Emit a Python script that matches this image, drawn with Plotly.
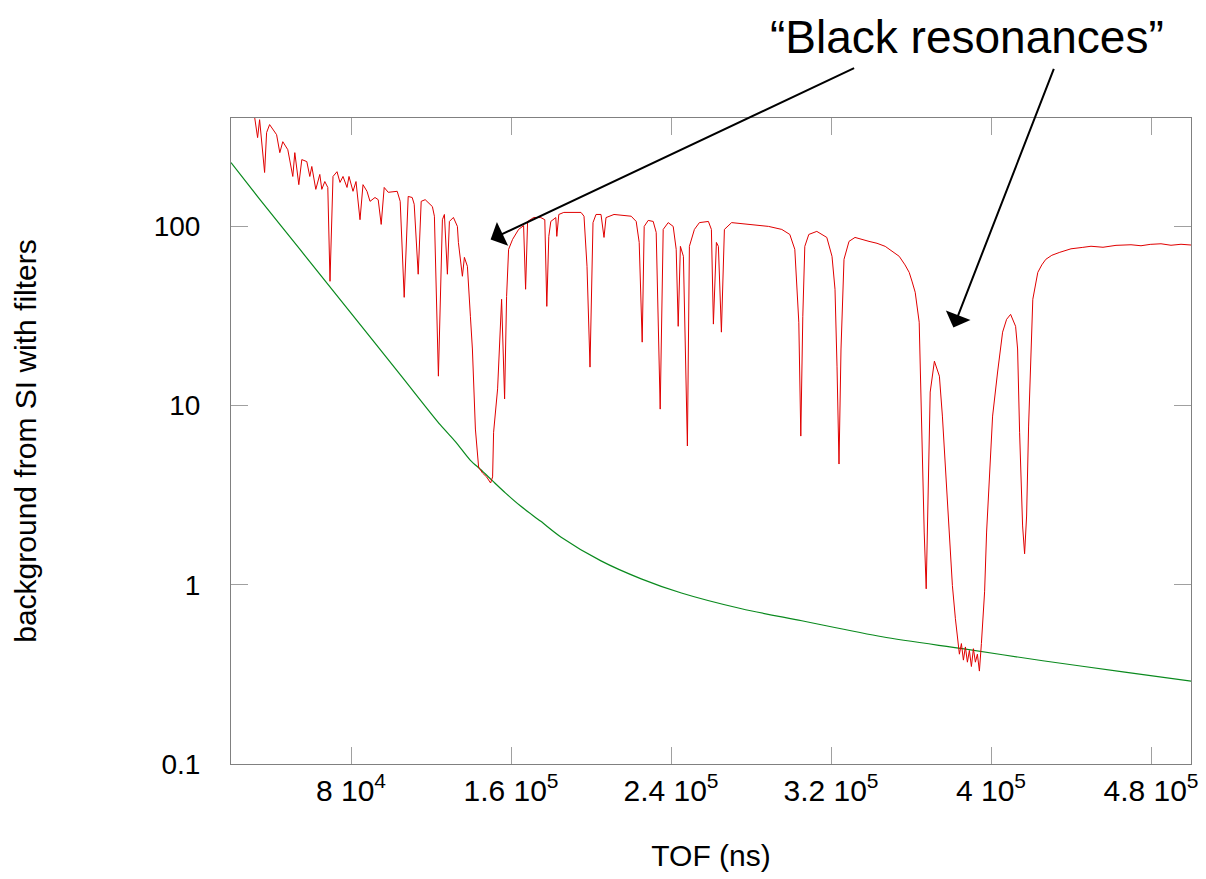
import plotly.graph_objects as go

# ---- data (TOF in units of 1e3 ns) ----
red_tof_k = [31.0, 33.3, 34.3, 36.8, 37.8, 39.3, 42.8, 44.4, 45.9, 48.4, 50.9, 51.9, 53.9, 55.4, 57.9,
             59.4, 60.4, 62.4, 64.4, 65.4, 66.9, 68.4, 69.5, 71.0, 73.0, 74.5, 76.0, 78.0, 79.0, 81.0,
             82.5, 84.5, 86.0, 88.0, 89.5, 92.0, 93.6, 95.1, 96.6, 98.6, 103.1, 104.6, 106.6, 108.6,
             110.6, 111.6, 113.6, 115.1, 117.1, 118.6, 120.7, 121.7, 123.7, 125.7, 126.7, 128.2, 129.2,
             131.2, 133.2, 133.7, 135.7, 136.7, 138.2, 139.7, 140.7, 142.2, 143.8, 145.8, 147.8, 149.8,
             150.8, 151.3, 153.3, 155.3, 156.8, 157.8, 158.8, 160.8, 163.8, 166.3, 167.3, 168.3, 171.4,
             174.9, 176.9, 177.9, 178.9, 179.9, 182.4, 182.9, 183.9, 186.4, 195.0, 196.5, 198.0, 199.5,
             201.0, 202.5, 205.0, 206.5, 207.5, 211.5, 220.1, 222.6, 224.1, 225.6, 226.6, 228.6, 231.1,
             232.6, 234.6, 236.1, 238.6, 241.1, 242.6, 243.6, 244.7, 246.2, 248.2, 249.2, 251.7, 254.2,
             258.7, 260.2, 261.2, 262.7, 263.7, 265.2, 266.7, 270.3, 280.3, 288.8, 295.4, 299.4, 301.9,
             303.9, 304.9, 305.9, 306.9, 308.9, 312.9, 317.9, 320.5, 322.0, 323.0, 324.0, 325.0, 326.5,
             329.0, 332.0, 339.0, 343.0, 347.1, 351.0, 354.1, 357.0, 359.1, 360.6, 362.1, 364.1, 365.1,
             366.6, 367.6, 368.6, 369.6,
             371.7, 374.2, 375.7, 377.2, 379.2, 380.7, 382.2, 383.2, 384.2, 385.2, 386.2, 387.2, 388.2,
             389.2, 390.2, 391.2, 392.2, 393.2, 394.2, 395.2, 396.8, 397.8, 399.3, 400.8, 403.3, 405.8,
             407.8, 409.8, 412.3, 413.3, 414.3, 415.8, 416.8, 417.8, 418.8, 419.9, 420.9, 423.4, 425.4,
             427.4, 430.4, 434.4, 440.0, 445.9, 450.0, 456.0, 462.5, 470.0, 475.0, 479.6, 485.0, 490.0,
             495.0, 502.2]
red_counts = [470, 313, 394, 200, 334, 370, 325, 258, 297, 268, 190, 258, 171, 236, 230,
              190, 216, 161, 195, 161, 178, 165, 49.4, 190, 202, 176, 190, 165, 190, 157,
              178, 109, 171, 157, 138, 145, 141, 102.6, 165, 155, 157, 138, 40.2, 147,
              145, 133, 54.1, 138, 141, 136, 129, 114, 14.6, 109, 116.6, 54.1, 106.6,
              112.2, 100, 81.4, 52.7, 67.2, 59.9, 31.5, 20.7, 7.4, 4.54, 4.2, 4.0, 3.7,
              4.0, 7.1, 12.4, 39.2, 10.9, 40.7, 74.5, 84.7, 96.2, 101, 44.6, 106.6, 112.2,
              112, 109, 35.8, 88, 106.6, 112, 88, 116.6, 119.7, 119.7, 114, 59.9, 16.4,
              105, 116.6, 116.6, 86.8, 112, 116.6, 114, 106.6, 81.4, 22.6, 100, 108, 106.6,
              92.6, 9.56, 96.2, 105, 100, 74.5, 27.7, 77.4, 68.1, 5.95, 77.4, 96.2, 105,
              106.6, 96.2, 28.5, 81.4, 77.4, 25.7, 96.2, 105, 102.6, 100, 96.2, 90.2, 74.5,
              29.2, 6.76, 31.5, 77.4, 90.2, 93.8, 86.8, 68.1, 44.6, 16.6, 4.72, 20.7, 65.5,
              82.5, 86.8, 82.5, 80.5, 77.4, 72.5, 68.1, 61.0, 55.4, 49.0, 42.9, 29.2, 8.41,
              1.97, 0.95, 3.01, 11.9,
              17.7, 14.6, 8.74, 4.6, 1.97, 0.99, 0.647, 0.50, 0.41, 0.47, 0.38, 0.45, 0.37,
              0.43, 0.35, 0.44, 0.37, 0.41, 0.33, 0.47, 0.914, 1.97, 4.6, 8.74, 15.4, 25.7,
              30.3, 32.3, 27.7, 20.7, 7.1, 2.13, 1.49, 2.42, 7.69, 20.7, 39.2, 55.4, 61.0,
              65.5, 69.0, 71.7, 75.0, 76.4, 77.5, 76.5, 78.4, 79.0, 78.0, 79.4, 80.0, 78.5,
              79.5, 78.4]

green_tof_k = [20.0, 34.3, 54.4, 79.5, 104.6, 124.7, 132.2, 139.7, 144.8, 150.8, 157.3, 164.8,
               174.9, 184.9, 205.0, 225.1, 245.2, 275.3, 305.4, 345.6, 385.7, 425.9, 466.0, 501.7]
green_counts = [227, 142, 74.6, 33.3, 14.9, 7.8, 6.3, 4.95, 4.4, 3.8, 3.25, 2.75,
                2.26, 1.85, 1.36, 1.08, 0.90, 0.735, 0.63, 0.513, 0.44, 0.377, 0.327, 0.288]

x_tick_vals = [80000, 160000, 240000, 320000, 400000, 480000]
x_tick_text = ["8 10<sup>4</sup>", "1.6 10<sup>5</sup>", "2.4 10<sup>5</sup>",
               "3.2 10<sup>5</sup>", "4 10<sup>5</sup>", "4.8 10<sup>5</sup>"]
y_tick_vals = [0.1, 1, 10, 100]
y_tick_text = ["0.1", "1", "10", "100"]

FONT = "Liberation Sans, Arial, sans-serif"

fig = go.Figure()
fig.add_trace(go.Scatter(x=[t * 1000 for t in green_tof_k], y=green_counts, mode="lines",
                         line=dict(color="#0a8a1e", width=1.2, shape="spline", smoothing=0.8),
                         showlegend=False))
fig.add_trace(go.Scatter(x=[t * 1000 for t in red_tof_k], y=red_counts, mode="lines",
                         line=dict(color="#e00000", width=1),
                         showlegend=False))

axis_common = dict(showgrid=False, zeroline=False, showline=True, linecolor="#808080",
                   linewidth=1, mirror="ticks", ticks="inside", ticklen=17, tickcolor="#a0a0a0",
                   tickwidth=1)

fig.update_xaxes(range=[20000, 500000], tickvals=x_tick_vals, ticktext=x_tick_text,
                 tickfont=dict(family=FONT, size=30, color="black"),
                 title=dict(text="TOF (ns)", font=dict(family=FONT, size=30, color="black"), standoff=38),
                 **axis_common)
fig.update_yaxes(type="log", range=[-1, 2.605], tickvals=y_tick_vals, ticktext=y_tick_text,
                 ticklabelstandoff=24, tickfont=dict(family=FONT, size=28, color="black"),
                 title=dict(text="background from SI with filters",
                            font=dict(family=FONT, size=30, color="black"), standoff=108),
                 **axis_common)

fig.add_annotation(x=(967 - 231) / 960, y=1 + (118 - 37) / 646, xref="paper", yref="paper",
                   text="“Black resonances”", showarrow=False,
                   font=dict(family=FONT, size=46, color="black"), xanchor="center", yanchor="middle")
fig.add_annotation(x=149800, y=1.927, xref="x", yref="y", text="", showarrow=True,
                   ax=365, ay=-172, axref="pixel", ayref="pixel",
                   arrowhead=1, arrowsize=2.2, arrowwidth=2, arrowcolor="black", standoff=0)
fig.add_annotation(x=381200, y=1.436, xref="x", yref="y", text="", showarrow=True,
                   ax=101, ay=-260, axref="pixel", ayref="pixel",
                   arrowhead=1, arrowsize=2.2, arrowwidth=2, arrowcolor="black", standoff=0)

fig.update_layout(width=1206, height=879, margin=dict(l=231, r=15, t=118, b=115, autoexpand=False),
                  paper_bgcolor="white", plot_bgcolor="white",
                  font=dict(family=FONT, color="black"))

fig.write_html("out.html")
